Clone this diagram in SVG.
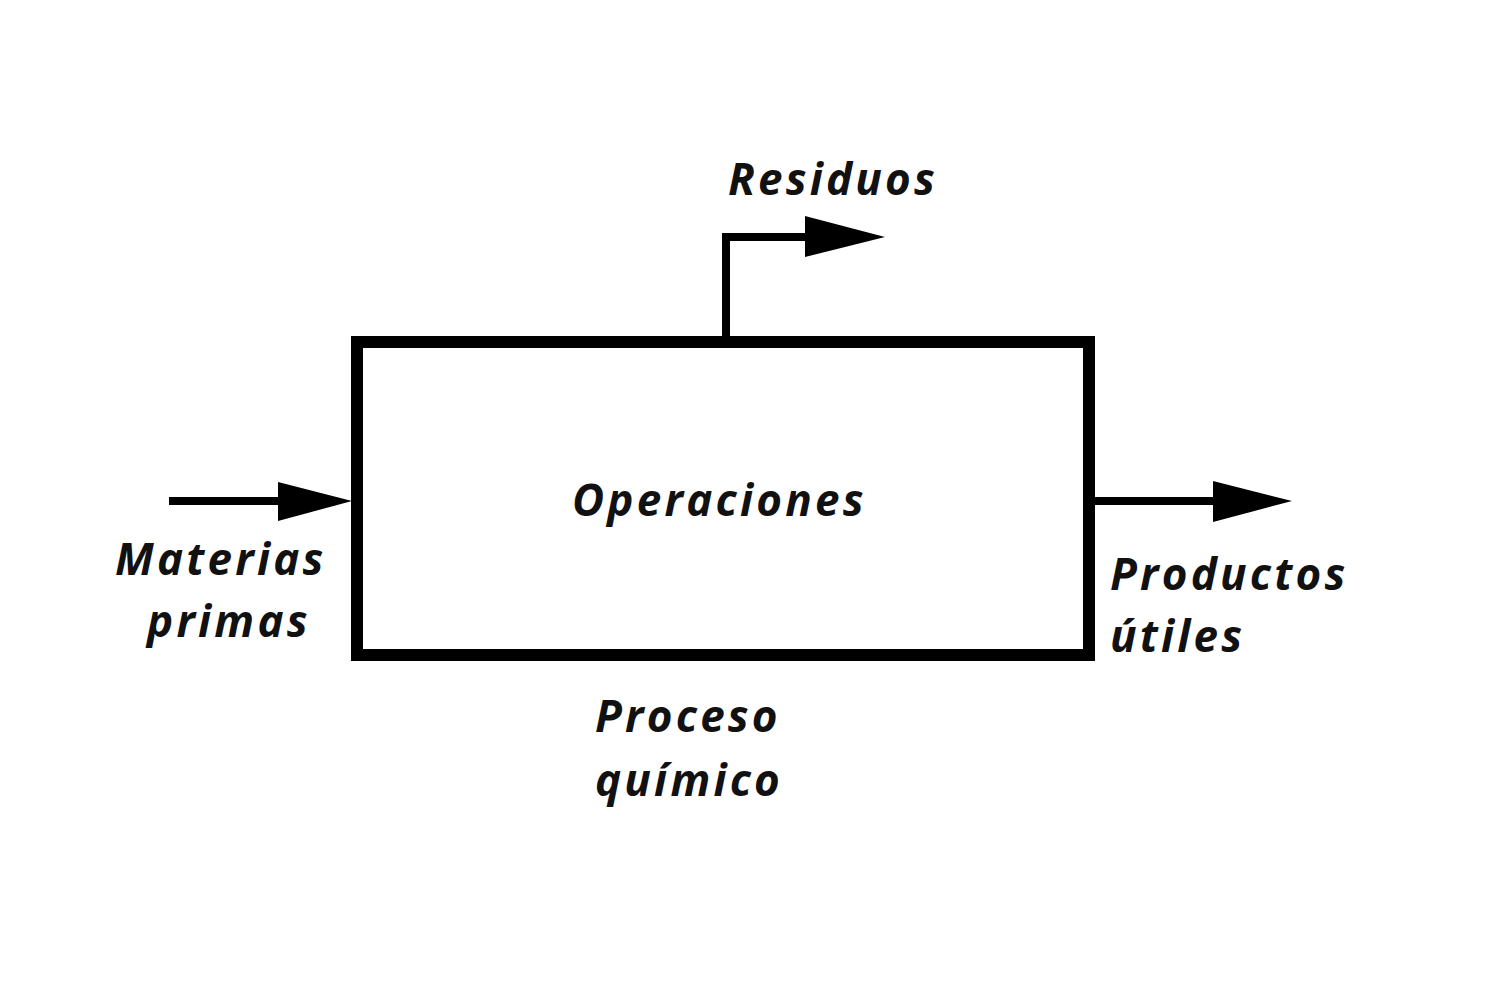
<svg xmlns="http://www.w3.org/2000/svg" width="1500" height="1000" viewBox="0 0 1500 1000">
<style>
.t{font-family:"Open Sans",Lato,sans-serif;font-weight:bold;font-style:italic;font-size:44px;letter-spacing:3.2px;fill:#111}
.ln{stroke:#000;stroke-width:8;fill:none}
.hd{fill:#000}
</style>
<rect width="1500" height="1000" fill="#fff"/>
<g id="proceso">
<rect x="357" y="342" width="732" height="313" fill="#fff" stroke="#000" stroke-width="12"/>
<text class="t" x="572" y="516">Operaciones</text>
<text class="t" x="595" y="732">Proceso</text>
<text class="t" x="595" y="796">químico</text>
</g>
<g id="materias">
<text class="t" x="115" y="575">Materias</text>
<text class="t" x="147" y="637">primas</text>
</g>
<g id="residuos">
<text class="t" x="728" y="195">Residuos</text>
</g>
<g id="productos">
<text class="t" x="1110" y="590">Productos</text>
<text class="t" x="1110" y="652">útiles</text>
</g>
<g id="connectors">
<line class="ln" x1="169" y1="501" x2="300" y2="501"/>
<polygon class="hd" points="278,482 352,501 278,521"/>
<polyline class="ln" points="726,340 726,237 830,237"/>
<polygon class="hd" points="805,216 885,237 805,257"/>
<line class="ln" x1="1093" y1="501" x2="1230" y2="501"/>
<polygon class="hd" points="1213,481 1292,501 1213,522"/>
</g>
</svg>
